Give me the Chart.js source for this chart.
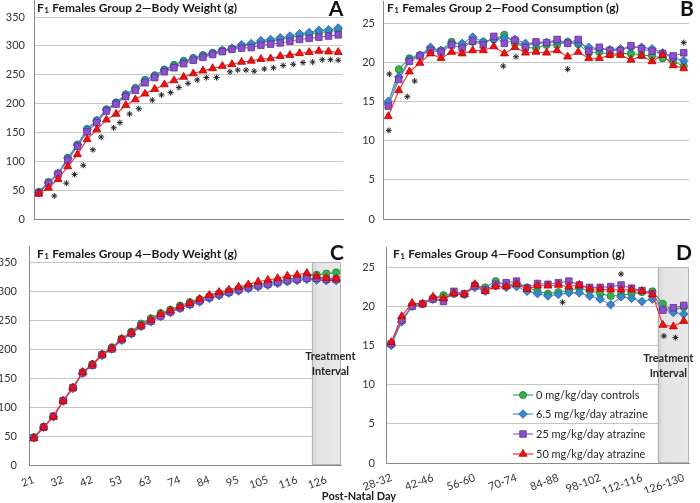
<!DOCTYPE html>
<html>
<head>
<meta charset="utf-8">
<script src="https://cdn.jsdelivr.net/npm/chart.js@4.4.0/dist/chart.umd.min.js"></script>
<style>
body { margin:0; background:#fff; width:700px; height:503px; overflow:hidden; position:relative; font-family:Lato, sans-serif; }
canvas { position:absolute; left:0; top:0; }
#xtitle { position:absolute; left:259px; width:200px; top:489px; line-height:14px; text-align:center; font:bold 11px Lato; color:#1a1a1a; }
</style>
</head>
<body>
<canvas id="chartA" width="700" height="503"></canvas>
<canvas id="chartB" width="700" height="503"></canvas>
<canvas id="chartC" width="700" height="503"></canvas>
<canvas id="chartD" width="700" height="503"></canvas>
<div id="xtitle">Post-Natal Day</div>
<script>
// x categories
var bwDays = [21,25,28,32,35,39,42,46,49,53,56,60,63,67,70,74,77,81,84,88,91,95,98,102,105,109,112,116,119,123,126,130];
var fcDays = ['28-32','32-35','35-39','39-42','42-46','46-49','49-53','53-56','56-60','60-63','63-67','67-70','70-74','74-77',
              '77-81','81-84','84-88','88-91','91-95','95-98','98-102','102-105','105-109','109-112','112-116','116-119',
              '119-123','123-126','126-130'];
var doseLabels = ['0 mg/kg/day controls', '6.5 mg/kg/day atrazine', '25 mg/kg/day atrazine', '50 mg/kg/day atrazine'];

// A: group 2 body weight (g)
var bwG2Ctrl = [47,64,79,106,129,156,171,190,202,216,227,241,249,259,267,274,279,284,288,292,295,300,302,306,308,311,314,318,320,323,325,327];
var bwG2Low  = [46,63,79,105,128,155,170,189,201,215,226,240,248,258,265,272,278,283,287,292,296,302,304,309,311,314,317,321,323,327,328,331];
var bwG2Mid  = [45,62,78,102,126,151,167,187,199,212,223,236,245,255,262,269,275,280,285,290,294,296,297,301,303,305,308,311,313,315,317,319];
var bwG2High = [44,54,69,91,112,138,155,172,182,197,207,217,225,233,240,246,252,257,261,265,268,272,274,277,278,282,284,287,289,291,290,289];
var bwG2SigX = [1.6,2.85,3.7,4.6,5.6,6.45,7.75,8.4,9.4,10.35,11.75,12.7,13.65,14.5,15.45,16.4,17.35,18.4,19.8,20.6,21.45,22.3,23.35,24.3,25.3,26.35,27.35,28.35,29.35,30.2,31];
var bwG2SigY = [40,62,77,93,120,142,158,167,182,191,206,215,219,228,235,241,245,245,255,258,258,256,260,262,266,268,271,272,276,276,275];

// B: group 2 food consumption (g)
var fcG2Ctrl = [14.7,19.1,20.5,20.9,21.7,21.5,22.6,22.2,22.6,22.6,22.9,23.5,22.4,21.9,21.8,22.2,22.2,22.6,22.3,21.2,21.3,21.0,21.1,21.1,20.9,20.8,20.5,20.1,19.5];
var fcG2Low  = [15.0,18.1,20.3,20.9,21.9,21.5,22.4,22.4,23.2,22.6,22.9,23.1,22.9,22.4,22.4,22.5,22.6,22.5,22.4,21.9,21.7,21.6,21.7,21.9,21.9,21.7,21.2,20.5,20.2];
var fcG2Mid  = [14.4,17.8,20.1,20.8,21.5,21.3,22.2,21.8,22.7,22.2,23.3,22.4,22.8,21.9,22.6,22.5,22.9,22.4,22.9,21.4,21.9,21.5,21.5,22.1,21.7,21.4,21.1,20.8,21.2];
var fcG2High = [13.1,16.4,18.8,19.9,21.1,20.5,21.3,21.1,21.5,21.5,22.0,21.1,21.9,21.2,21.3,21.2,21.5,20.7,21.3,20.5,20.5,20.9,20.9,20.3,20.8,20.1,20.9,19.6,19.2];
var fcG2SigX = [0.05,0.1,1.8,2.5,10.9,12.1,17.0,28.0];
var fcG2SigY = [11.3,18.5,15.6,17.6,19.5,20.7,19.1,22.5];

// C: group 4 body weight (g)
var bwG4Ctrl = [48,66,84,111,134,160,174,191,203,218,230,244,253,262,268,275,281,286,291,296,300,304,308,311,314,317,320,323,325,328,330,332];
var bwG4Low  = [47,65,83,110,132,158,172,189,200,215,226,239,247,256,263,270,276,281,287,292,296,300,304,307,310,313,316,318,320,319,318,318];
var bwG4Mid  = [47,65,84,111,133,159,172,190,200,216,227,240,248,257,264,271,277,283,289,294,298,302,306,309,312,315,318,320,322,322,320,320];
var bwG4High = [46,65,83,110,133,160,173,190,201,217,228,240,250,260,266,273,279,286,293,298,302,307,311,316,319,322,326,328,331,325,322,321];

// D: group 4 food consumption (g)
var fcG4Ctrl = [15.2,18.3,20.0,20.3,21.0,21.4,21.6,21.5,22.7,22.4,23.2,22.7,22.9,22.4,21.9,21.6,21.8,22.0,22.3,22.0,21.6,21.3,21.4,21.6,21.8,21.9,20.3,19.5,19.9];
var fcG4Low  = [15.0,18.0,20.0,20.3,20.9,20.8,21.6,21.5,22.4,21.9,22.6,22.4,22.5,21.9,21.6,21.3,21.5,21.7,21.7,21.3,20.9,20.2,21.2,21.0,20.6,20.9,19.6,19.2,19.0];
var fcG4Mid  = [15.2,18.2,20.0,20.3,20.9,20.6,21.9,21.6,22.6,22.1,22.8,23.0,23.2,22.3,22.9,22.8,23.0,23.2,22.7,22.4,22.4,22.5,22.7,22.3,22.0,21.6,19.5,19.8,20.1];
var fcG4High = [15.4,18.7,20.4,20.3,21.2,21.0,21.6,21.5,22.8,21.9,22.5,22.5,22.8,22.2,22.6,22.6,22.7,22.5,22.7,22.2,22.2,22.1,22.1,22.1,21.9,21.5,17.6,17.4,18.1];
var fcG4SigX = [16.4,22.0,26.1,27.2];
var fcG4SigY = [20.5,24.1,16.2,16.0];

// treatment interval starts (category position)
var bwTreatStart = 28.5;
var fcTreatStart = 25.5;

var seriesLook = [
    {fill:'#37b14e', edge:'#1f7f35', line:'#3aa655', style:'circle', radius:3.6},
    {fill:'#3a86cc', edge:'#22609c', line:'#4a8fd0', style:'rectRot', radius:4.3},
    {fill:'#8a52c8', edge:'#5e2d9a', line:'#8e63c4', style:'rect', radius:4.6},
    {fill:'#ee1111', edge:'#b80000', line:'#ff2a2a', style:'triangle', radius:4.6}
];

function lineSet(vals, k) {
    var s = seriesLook[k];
    return {
        label: doseLabels[k],
        data: vals.map(function(v, i) { return {x: i, y: v}; }),
        borderColor: s.line, borderWidth: 1.1, backgroundColor: s.fill,
        pointStyle: s.style, pointRadius: s.radius,
        pointBackgroundColor: s.fill, pointBorderColor: s.edge, pointBorderWidth: 0.8,
        tension: 0, order: 4 - k
    };
}

function starSet(xs, ys) {
    return {
        label: 'p<0.05',
        data: xs.map(function(x, i) { return {x: x, y: ys[i]}; }),
        showLine: false, pointStyle: 'star', pointRadius: 3,
        pointBorderColor: '#222', pointBorderWidth: 1, borderColor: '#222', order: 0
    };
}

function drawTitle(ctx, x, y, rest) {
    ctx.fillStyle = '#1a1a1a';
    ctx.textBaseline = 'middle';
    ctx.textAlign = 'left';
    ctx.font = 'bold 12px Lato';
    ctx.fillText('F', x, y);
    var w = ctx.measureText('F').width;
    ctx.font = 'bold 8px Lato';
    ctx.fillText('1', x + w + 0.5, y + 2.5);
    var w2 = ctx.measureText('1').width;
    ctx.font = 'bold 12px Lato';
    ctx.fillText(rest, x + w + w2 + 1, y);
}

var panelDeco = {
    id: 'panelDeco',
    beforeDatasetsDraw: function(chart, args, opts) {
        var ca = chart.chartArea, ctx = chart.ctx, xs = chart.scales.x;
        ctx.save();
        if (opts.shadeFrom != null) {
            var x0 = xs.getPixelForValue(opts.shadeFrom);
            var g = ctx.createLinearGradient(x0, 0, ca.right, 0);
            g.addColorStop(0, '#d2d2d2');
            g.addColorStop(0.2, '#e4e4e4');
            g.addColorStop(1, '#e9e9e9');
            ctx.fillStyle = g;
            ctx.fillRect(x0, ca.top, ca.right - x0, ca.bottom - ca.top);
            ctx.strokeStyle = '#b4b4b4';
            ctx.lineWidth = 1;
            ctx.strokeRect(Math.round(x0) + 0.5, ca.top + 0.5, ca.right - Math.round(x0) - 1, ca.bottom - ca.top - 1);
        }
        ctx.strokeStyle = '#8c8c8c';
        ctx.lineWidth = 1;
        ctx.beginPath();
        ctx.moveTo(Math.round(ca.left) + 0.5, ca.top - opts.frameUp);
        ctx.lineTo(Math.round(ca.left) + 0.5, ca.bottom);
        ctx.stroke();
        ctx.restore();
    },
    afterDatasetsDraw: function(chart, args, opts) {
        var ca = chart.chartArea, ctx = chart.ctx, xs = chart.scales.x;
        ctx.save();
        drawTitle(ctx, opts.titleX, opts.titleY, opts.title);
        ctx.font = 'bold 21px Lato';
        ctx.textAlign = 'center';
        ctx.textBaseline = 'middle';
        ctx.fillStyle = '#111';
        ctx.fillText(opts.letter, opts.letterX, opts.letterY);
        if (opts.shadeFrom != null) {
            var cx = (xs.getPixelForValue(opts.shadeFrom) + ca.right) / 2;
            ctx.font = 'bold 11px Lato';
            ctx.fillStyle = '#262626';
            ctx.fillText('Treatment', cx + opts.treatDx, opts.treatY);
            ctx.fillText('Interval', cx + opts.treatDx, opts.treatY + 15);
        }
        if (opts.legend) {
            var dp = Chart.helpers && Chart.helpers.drawPoint;
            ctx.font = '11px Lato';
            ctx.textAlign = 'left';
            for (var k = 0; k < doseLabels.length; k++) {
                var s = seriesLook[k], y = opts.legend.y[k];
                ctx.strokeStyle = s.line;
                ctx.lineWidth = 1.2;
                ctx.beginPath();
                ctx.moveTo(opts.legend.x, y);
                ctx.lineTo(opts.legend.x + 20, y);
                ctx.stroke();
                ctx.fillStyle = s.fill;
                ctx.strokeStyle = s.edge;
                ctx.lineWidth = 0.8;
                if (dp) {
                    dp(ctx, {pointStyle: s.style, radius: s.radius, rotation: 0, borderWidth: 0.8}, opts.legend.x + 10, y);
                } else {
                    ctx.beginPath(); ctx.arc(opts.legend.x + 10, y, 3.6, 0, Math.PI * 2); ctx.fill(); ctx.stroke();
                }
                ctx.fillStyle = '#262626';
                ctx.fillText(doseLabels[k], opts.legend.x + 23, y + 0.5);
            }
        }
        ctx.restore();
    }
};

function panel(id, p) {
    var n = p.labels.length;
    return new Chart(document.getElementById(id), {
        type: 'line',
        data: {datasets: p.datasets},
        options: {
            responsive: false,
            animation: false,
            events: [],
            layout: {autoPadding: false, padding: p.pad},
            plugins: {legend: {display: false}, tooltip: {enabled: false}, panelDeco: p.deco},
            scales: {
                x: {
                    type: 'linear', min: -0.5, max: n - 0.5,
                    afterFit: function(s) { s.height = p.xh; },
                    afterBuildTicks: function(s) {
                        s.ticks = p.tickIdx.map(function(i) { return {value: i}; });
                    },
                    ticks: {
                        display: p.showX, minRotation: 20, maxRotation: 20, padding: 0, autoSkip: false,
                        font: {family: 'Lato', size: 11}, color: '#333',
                        callback: function(v) { return p.labels[v]; }
                    },
                    grid: {display: false},
                    border: {display: true, color: '#8c8c8c'}
                },
                y: {
                    min: 0, max: p.ymax,
                    afterFit: function(s) { s.width = p.yw; },
                    ticks: {stepSize: p.step, padding: p.ypad, font: {family: 'Lato', size: 11}, color: '#333'},
                    grid: {color: '#c6c6c6', drawTicks: false},
                    border: {display: false}
                }
            }
        },
        plugins: [panelDeco]
    });
}

function everyNth(n, step) {
    var out = [];
    for (var i = 0; i < n; i += step) out.push(i);
    return out;
}

panel('chartA', {
    labels: bwDays, tickIdx: everyNth(bwDays.length, 3), showX: false, xh: 0,
    ymax: 350, step: 50, yw: 30, ypad: 9,
    pad: {left: 4, right: 357, top: 17, bottom: 284},
    datasets: [lineSet(bwG2Ctrl, 0), lineSet(bwG2Low, 1), lineSet(bwG2Mid, 2), lineSet(bwG2High, 3), starSet(bwG2SigX, bwG2SigY)],
    deco: {title: ' Females Group 2\u2014Body Weight (g)', titleX: 37, titleY: 8, letter: 'A', letterX: 336, letterY: 9, frameUp: 17}
});

panel('chartB', {
    labels: fcDays, tickIdx: everyNth(fcDays.length, 4), showX: false, xh: 0,
    ymax: 25, step: 5, yw: 25, ypad: 8,
    pad: {left: 358, right: 11, top: 23, bottom: 284},
    datasets: [lineSet(fcG2Ctrl, 0), lineSet(fcG2Low, 1), lineSet(fcG2Mid, 2), lineSet(fcG2High, 3), starSet(fcG2SigX, fcG2SigY)],
    deco: {title: ' Females Group 2\u2014Food Consumption (g)', titleX: 387, titleY: 8, letter: 'B', letterX: 687, letterY: 9, frameUp: 22}
});

panel('chartC', {
    labels: bwDays, tickIdx: everyNth(bwDays.length, 3), showX: true, xh: 30,
    ymax: 350, step: 50, yw: 29, ypad: 12,
    pad: {left: 0, right: 359, top: 262, bottom: 8},
    datasets: [lineSet(bwG4Ctrl, 0), lineSet(bwG4Low, 1), lineSet(bwG4Mid, 2), lineSet(bwG4High, 3)],
    deco: {title: ' Females Group 4\u2014Body Weight (g)', titleX: 37, titleY: 254, letter: 'C', letterX: 337, letterY: 253, frameUp: 16,
           shadeFrom: bwTreatStart, treatY: 356, treatDx: 4}
});

panel('chartD', {
    labels: fcDays, tickIdx: everyNth(fcDays.length, 4), showX: true, xh: 30,
    ymax: 25, step: 5, yw: 25, ypad: 11,
    pad: {left: 361, right: 11, top: 267, bottom: 10},
    datasets: [lineSet(fcG4Ctrl, 0), lineSet(fcG4Low, 1), lineSet(fcG4Mid, 2), lineSet(fcG4High, 3), starSet(fcG4SigX, fcG4SigY)],
    deco: {title: ' Females Group 4\u2014Food Consumption (g)', titleX: 393, titleY: 254, letter: 'D', letterX: 684, letterY: 253, frameUp: 20,
           shadeFrom: fcTreatStart, treatY: 358, treatDx: -5,
           legend: {x: 513, y: [395, 414, 434, 454]}}
});
</script>
</body>
</html>
